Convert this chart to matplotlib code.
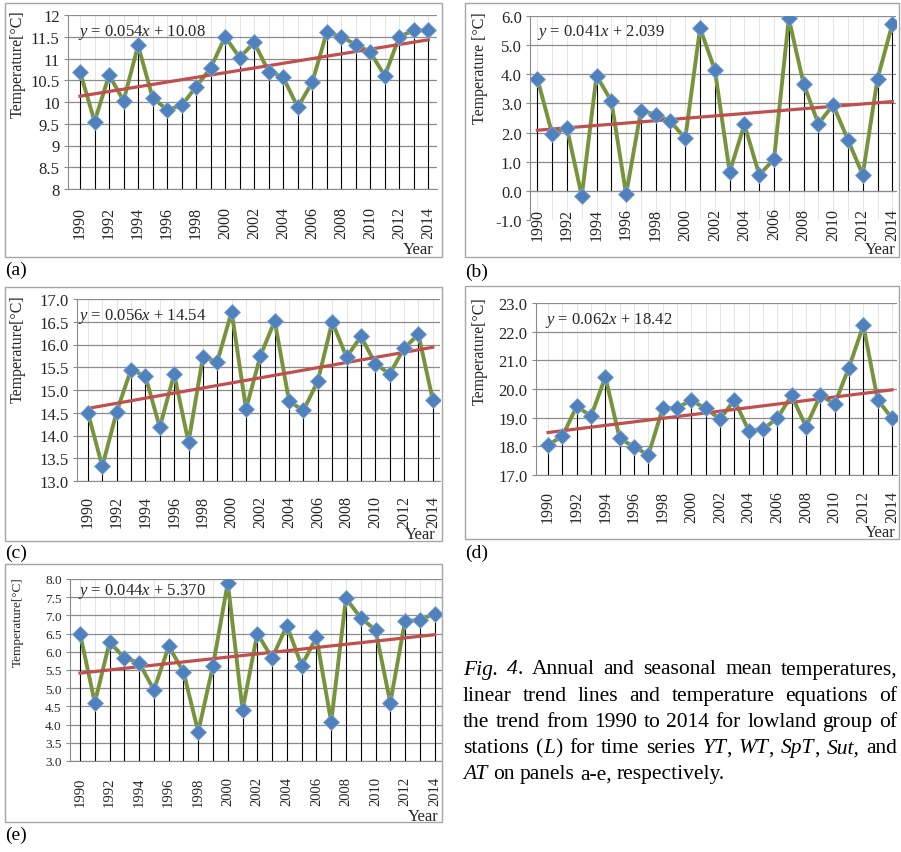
#!/usr/bin/env python3
"""
Annual and seasonal mean temperatures (lowland stations), 1990-2014
Five Excel-style line charts with drop lines and linear trend, plus caption.
"""

import numpy as np
import matplotlib
matplotlib.use("Agg")
import matplotlib.pyplot as plt
from matplotlib.patches import Rectangle

# ---- data ----
years = list(range(1990, 2015))

yt = [10.70, 9.55, 10.62, 10.03, 11.30, 10.10, 9.82, 9.92, 10.35, 10.78,
      11.50, 11.02, 11.37, 10.70, 10.57, 9.88, 10.45, 11.60, 11.50, 11.32,
      11.15, 10.60, 11.50, 11.65, 11.65]
wt = [3.85, 1.95, 2.15, -0.18, 3.95, 3.08, -0.12, 2.75, 2.62, 2.38,
      1.80, 5.58, 4.15, 0.65, 2.28, 0.55, 1.08, 5.92, 3.68, 2.30,
      2.95, 1.75, 0.55, 3.85, 5.72]
spt = [14.50, 13.32, 14.52, 15.45, 15.30, 14.18, 15.35, 13.85, 15.72, 15.62,
       16.72, 14.58, 15.75, 16.52, 14.75, 14.55, 15.20, 16.50, 15.72, 16.18,
       15.58, 15.35, 15.92, 16.22, 14.78]
sut = [18.05, 18.35, 19.40, 19.05, 20.42, 18.28, 17.98, 17.70, 19.32, 19.35,
       19.60, 19.32, 18.95, 19.62, 18.55, 18.60, 18.98, 19.78, 18.68, 19.78,
       19.48, 20.75, 22.22, 19.62, 18.98]
at = [6.50, 4.60, 6.27, 5.83, 5.70, 4.95, 6.15, 5.45, 3.80, 5.62,
      7.90, 4.40, 6.50, 5.83, 6.72, 5.62, 6.40, 4.07, 7.47, 6.93,
      6.60, 4.60, 6.85, 6.87, 7.05]

slopes = [0.054, 0.041, 0.056, 0.062, 0.044]
intercepts = [10.08, 2.039, 14.54, 18.42, 5.370]
ylabels = ["Temperature[°C]", "Temperature [°C]", "Temperature[°C]",
           "Temperature[°C]", "Temperature[°C]"]
panel_tags = ["(a)", "(b)", "(c)", "(d)", "(e)"]

caption_lines = [
    "_Fig._ _4_. Annual and seasonal mean temperatures,",
    "linear trend lines and temperature equations of",
    "the trend from 1990 to 2014 for lowland group of",
    "stations (_L_) for time series _YT_, _WT_, _SpT_, _Sut,_ and",
    "_AT_ on panels a-e, respectively.",
]

# ---- layout (pixels in the 901x853 picture) ----
W, H = 901, 853
plt.rcParams["font.family"] = ["Liberation Serif", "DejaVu Serif"]
plt.rcParams["mathtext.fontset"] = "custom"
plt.rcParams["mathtext.rm"] = "Liberation Serif"
plt.rcParams["mathtext.it"] = "Liberation Serif:italic"

GRID = "#8c8c8c"
FRAME = "#a6a6a6"
TXT = "#262626"

panels = [
    dict(data=yt, box=(5, 4, 442, 258), area=(68, 16, 437, 190),
         xlim=(1989.17, 2014.6), ylim=(8, 12), step=0.5, fmt="{:g}",
         base=8, ytick=12, xtick=11.5, ylab=11.5, xpad=12, ylab_xy=(18, 64),
         year_xy=(418, 250), eq_xy=(78, 32), tag_xy=(5, 270)),
    dict(data=wt, box=(465, 4, 899, 258), area=(530, 17, 896, 221),
         xlim=(1989.5, 2014.25), ylim=(-1, 6), step=1.0, fmt="{:.1f}",
         base=0, ytick=12, xtick=11.5, ylab=11.5, xpad=12, ylab_xy=(480, 68),
         year_xy=(880, 250), eq_xy=(537, 33), tag_xy=(465, 272)),
    dict(data=spt, box=(5, 288, 442, 542), area=(77, 300, 440, 482),
         xlim=(1989.24, 2014.5), ylim=(13, 17), step=0.5, fmt="{:.1f}",
         base=13, ytick=12, xtick=11.5, ylab=11.5, xpad=10, ylab_xy=(18, 349),
         year_xy=(420, 535), eq_xy=(78, 317), tag_xy=(5, 553)),
    dict(data=sut, box=(465, 287, 899, 540), area=(536, 304, 897, 476),
         xlim=(1989.16, 2014.35), ylim=(17, 23), step=1.0, fmt="{:.1f}",
         base=17, ytick=12, xtick=11.5, ylab=11.5, xpad=11, ylab_xy=(480, 351),
         year_xy=(880, 533), eq_xy=(545, 320), tag_xy=(465, 553)),
    dict(data=at, box=(5, 565, 442, 823), area=(70, 580, 442, 762),
         xlim=(1989.32, 2014.5), ylim=(3, 8), step=0.5, fmt="{:.1f}",
         base=3, ytick=9.5, xtick=10.5, ylab=9.5, xpad=11, ylab_xy=(18, 622),
         year_xy=(423, 817), eq_xy=(78, 592), tag_xy=(5, 835)),
]


def fx(px):
    return px / W


def fy(py):
    return 1 - py / H


fig = plt.figure(figsize=(W / 100, H / 100), dpi=100)
fig.patch.set_facecolor("white")

for i, p in enumerate(panels):
    bl, bt, br, bb = p["box"]
    fig.patches.append(Rectangle((fx(bl), fy(bb)), fx(br - bl), (bb - bt) / H,
                                 transform=fig.transFigure, fill=False,
                                 edgecolor=FRAME, linewidth=1.0, zorder=0))

    al, at_, ar, ab = p["area"]
    ax = fig.add_axes([fx(al), fy(ab), fx(ar - al), (ab - at_) / H])
    ax.set_facecolor("none")
    vals = np.array(p["data"])
    x = np.array(years)

    ymin, ymax = p["ylim"]
    if p["base"] != ymin:
        # category axis crosses at zero (this resets the x ticks, so do it first)
        ax.spines["bottom"].set_position(("data", p["base"]))

    ticks = np.arange(ymin, ymax + p["step"] / 2, p["step"])
    ax.set_xlim(*p["xlim"])
    ax.set_ylim(ymin, ymax)
    ax.set_yticks(ticks)
    ax.set_yticklabels([p["fmt"].format(t) for t in ticks],
                       fontsize=p["ytick"], color=TXT)
    ax.set_xticks(years[::2])
    ax.set_xticklabels([str(y) for y in years[::2]], rotation=90,
                       fontsize=p["xtick"], color=TXT)
    ax.set_xticks(years, minor=True)

    ax.grid(axis="y", color=GRID, linewidth=0.9, zorder=0)
    ax.grid(axis="x", which="both", color="#e0e0e0", linewidth=0.6, zorder=0)
    ax.set_axisbelow(True)
    if p["base"] != ymin:
        ax.yaxis.get_gridlines()[0].set_visible(False)

    for s in ("top", "right"):
        ax.spines[s].set_visible(False)
    ax.spines["left"].set_color(GRID)
    ax.spines["bottom"].set_color(GRID)
    ax.tick_params(axis="y", length=3, color=GRID, pad=3)
    ax.tick_params(axis="x", which="both", length=0, pad=p["xpad"])

    # drop lines, series, trend, markers
    ax.vlines(x, p["base"], vals, color="black", linewidth=0.8, zorder=2)
    ax.plot(x, vals, color="#77933C", linewidth=2.8, zorder=3,
            solid_joinstyle="round")
    idx = np.arange(1, len(years) + 1)
    trend = slopes[i] * idx + intercepts[i]
    ax.plot(x, trend, color="#C0504D", linewidth=2.3, zorder=4)
    ax.plot(x, vals, linestyle="none", marker="D", markersize=8,
            markerfacecolor="#4F81BD", markeredgecolor="#7fa3d3",
            markeredgewidth=0.6, zorder=5)

    eq = "$y$ = {:.3f}$x$ + {:#.4g}".format(slopes[i], intercepts[i])
    fig.text(fx(p["eq_xy"][0]), fy(p["eq_xy"][1]), eq, fontsize=12,
             color=TXT, ha="left", va="center")
    fig.text(fx(p["ylab_xy"][0]), fy(p["ylab_xy"][1]), ylabels[i],
             rotation=90, fontsize=p["ylab"], color=TXT,
             ha="center", va="center")
    fig.text(fx(p["year_xy"][0]), fy(p["year_xy"][1]), "Year",
             fontsize=12, color=TXT, ha="center", va="center")
    fig.text(fx(p["tag_xy"][0]), fy(p["tag_xy"][1]), panel_tags[i],
             fontsize=14, color="black", ha="left", va="center")

# ---- justified caption ----
renderer = fig.canvas.get_renderer()
cap_left, cap_right = 463, 897
cap_top, line_gap = 670, 26.2
cap_size = 15.5


def make_word(word):
    parts = word.split("_")
    segs = []
    for k, seg in enumerate(parts):
        if seg:
            segs.append(fig.text(0, 0, seg, fontsize=cap_size, color="black",
                                 fontstyle="italic" if k % 2 else "normal",
                                 ha="left", va="center"))
    widths = [t.get_window_extent(renderer).width for t in segs]
    return segs, widths


space_w = cap_size * 100 / 72 * 0.25
for n, line in enumerate(caption_lines):
    words = [make_word(w) for w in line.split(" ")]
    word_w = [sum(w) for _, w in words]
    last = n == len(caption_lines) - 1
    if last:
        gap = space_w
    else:
        gap = (cap_right - cap_left - sum(word_w)) / (len(words) - 1)
    xpos = cap_left
    ypos = cap_top + n * line_gap
    for (segs, widths), ww in zip(words, word_w):
        xs = xpos
        for t, w in zip(segs, widths):
            t.set_position((fx(xs), fy(ypos)))
            xs += w
        xpos += ww + gap

fig.savefig("out.png", dpi=100, facecolor="white")
